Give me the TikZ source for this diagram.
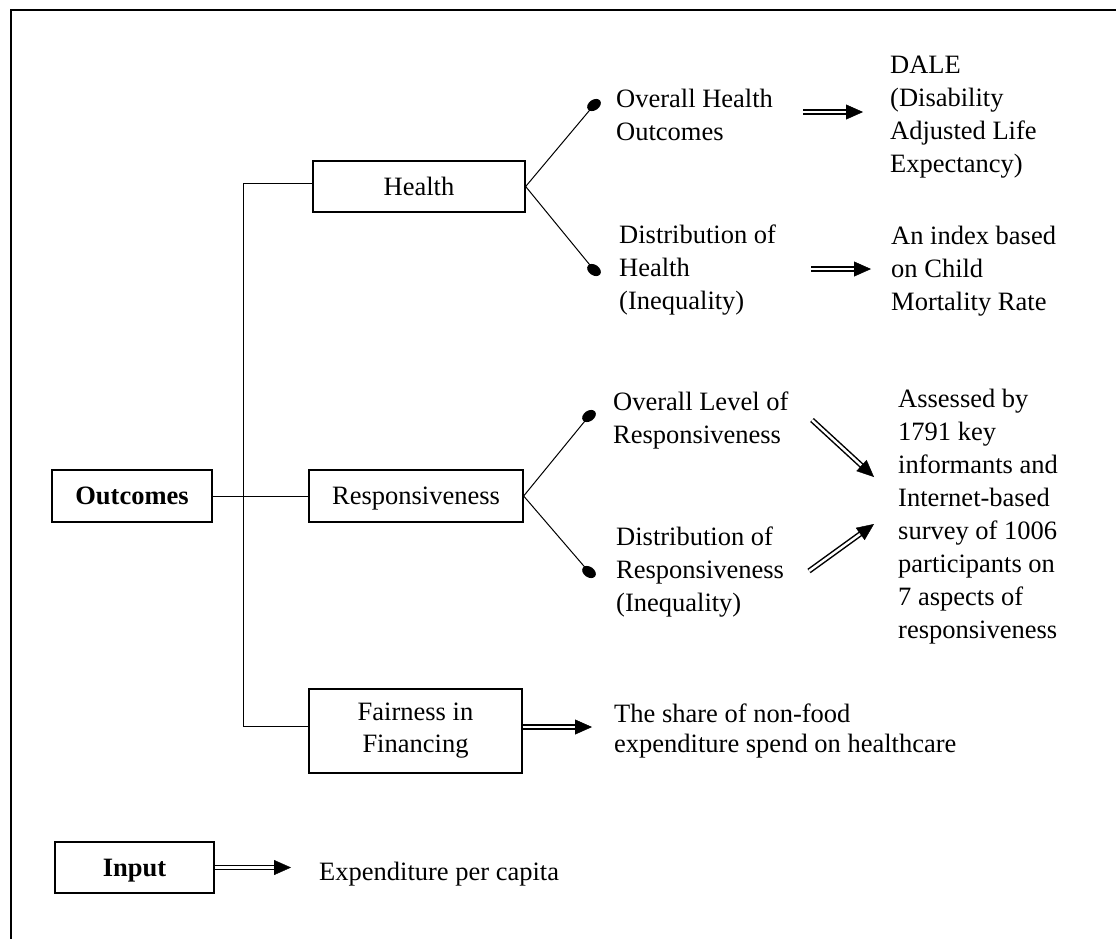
\documentclass[tikz,border=0pt]{standalone}
\usepackage{fontspec}
\setmainfont{Liberation Serif}
\usetikzlibrary{shapes.geometric,arrows.meta,calc}
\tikzset{
  box/.style={draw, line width=1.3pt, inner sep=0pt, align=center, font=\fontsize{26.5}{32}\selectfont},
  lbl/.style={anchor=base west, inner sep=0pt, align=left, font=\fontsize{26.5}{33}\selectfont},
  conn/.style={line width=1pt},
  dot/.style={ellipse, fill=black, draw=none, minimum width=15pt, minimum height=10.5pt, inner sep=0pt},
  shaft/.style={line width=1.5pt, double distance=2.4pt, double=white},
  headtip/.style={line width=0.4pt, -{Triangle[length=17pt,width=15pt]}},
}
\newcommand{\dblarr}[2]{%
  \draw[shaft] (#1) -- ($(#2)!15pt!(#1)$);
  \draw[headtip] ($(#2)!17.5pt!(#1)$) -- (#2);}
\begin{document}
\begin{tikzpicture}[x=1pt,y=-1pt]
\useasboundingbox (0,0) rectangle (1116,938);
% frame
\draw[line width=2.5pt] (11,940) -- (11,10) -- (1118,10);

% boxes
\node[box, minimum width=160pt, minimum height=52pt] (Outcomes) at (132,496) {\textbf{Outcomes}};
\node[box, minimum width=212pt, minimum height=51pt] (Health) at (419,186.5) {Health};
\node[box, minimum width=214pt, minimum height=52pt, text depth=0pt] (Responsiveness) at (416,496) {Responsiveness};
\node[box, minimum width=213pt, minimum height=84pt] (Fairness) at (415.5,731) {\raisebox{-3pt}{Fairness in}\\\raisebox{-3pt}{Financing}};
\node[box, minimum width=159pt, minimum height=51pt, text depth=0pt] (Input) at (134.5,867.5) {\textbf{Input}};

% trunk
\coordinate (th) at (243,183);
\coordinate (tf) at (243,726);
\draw[conn] ([yshift=3.5pt]Health.west) -- (th) -- (tf) -- ([yshift=5pt]Fairness.west);
\draw[conn] (Outcomes.east) -- (Responsiveness.west);

% dots
\node[dot, rotate=35] (d1) at (594,105) {};
\node[dot, rotate=-35] (d2) at (594,270) {};
\node[dot, rotate=35] (d3) at (589,416) {};
\node[dot, rotate=-35] (d4) at (589,572) {};
\draw[conn] (Health.east) -- (d1.center);
\draw[conn] (Health.east) -- (d2.center);
\draw[conn] (Responsiveness.east) -- (d3.center);
\draw[conn] (Responsiveness.east) -- (d4.center);

% labels (anchored at the baseline of their last line)
\node[lbl] (t1) at (616,140) {Overall Health\\Outcomes};
\node[lbl] (t2) at (619,309) {Distribution of\\Health\\(Inequality)};
\node[lbl] (t3) at (890,172) {DALE\\(Disability\\Adjusted Life\\Expectancy)};
\node[lbl] (t4) at (891,310) {An index based\\on Child\\Mortality Rate};
\node[lbl] (t5) at (613,443) {Overall Level of\\Responsiveness};
\node[lbl] (t6) at (616,611) {Distribution of\\Responsiveness\\(Inequality)};
\node[lbl] (t7) at (898,638) {Assessed by\\1791 key\\informants and\\Internet-based\\survey of 1006\\participants on\\7 aspects of\\responsiveness};
\node[lbl, font=\fontsize{26.5}{30}\selectfont] (t8) at (614,752) {The share of non-food\\expenditure spend on healthcare};
\node[lbl] (t9) at (319,880) {Expenditure per capita};

% double arrows
\coordinate (a1s) at (803,112); \coordinate (a1e) at (863,112);
\coordinate (a2s) at (811,269); \coordinate (a2e) at (871,269);
\coordinate (a3s) at (812,420); \coordinate (a3e) at (874,477);
\coordinate (a4s) at (809,571); \coordinate (a4e) at (874,524);
\coordinate (a5s) at ([yshift=4pt]Fairness.east); \coordinate (a5e) at (592,727);
\coordinate (a6e) at (291,867.5);
\dblarr{a1s}{a1e}
\dblarr{a2s}{a2e}
\dblarr{a3s}{a3e}
\dblarr{a4s}{a4e}
\dblarr{a5s}{a5e}
\dblarr{Input.east}{a6e}
\end{tikzpicture}
\end{document}
